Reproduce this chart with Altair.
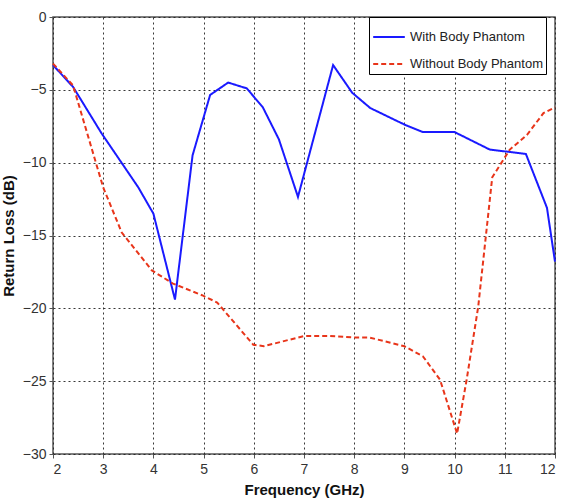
import altair as alt
import pandas as pd

with_freq = [2.0, 2.4, 2.97, 3.7, 4.0, 4.43, 4.78, 5.13, 5.49, 5.86, 6.18, 6.5, 6.88, 7.58, 7.96, 8.32, 9.01, 9.37, 10.0, 10.7, 11.42, 11.84, 12.0]
with_rl = [-3.3, -4.8, -8.0, -11.7, -13.5, -19.4, -9.5, -5.35, -4.5, -4.9, -6.2, -8.4, -12.35, -3.3, -5.2, -6.25, -7.4, -7.9, -7.9, -9.1, -9.4, -13.1, -16.8]

without_freq = [2.0, 2.4, 3.0, 3.37, 3.97, 4.39, 4.97, 5.27, 5.99, 6.2, 7.0, 7.5, 8.0, 8.3, 9.0, 9.37, 9.71, 10.05, 10.24, 10.47, 10.75, 11.1, 11.44, 11.77, 12.0]
without_rl = [-3.2, -4.7, -11.7, -14.8, -17.4, -18.3, -19.1, -19.6, -22.5, -22.6, -21.9, -21.9, -22.0, -22.0, -22.6, -23.3, -24.9, -28.6, -24.9, -19.9, -11.0, -9.1, -8.1, -6.6, -6.2]

series_names = ["With Body Phantom", "Without Body Phantom"]
x_ticks = [2, 3, 4, 5, 6, 7, 8, 9, 10, 11, 12]
y_ticks = [0, -5, -10, -15, -20, -25, -30]

rows = []
for i, (f, v) in enumerate(zip(with_freq, with_rl)):
    rows.append({"freq": f, "rl": v, "series": series_names[0], "order": i})
for i, (f, v) in enumerate(zip(without_freq, without_rl)):
    rows.append({"freq": f, "rl": v, "series": series_names[1], "order": i})
df = pd.DataFrame(rows)

font = "Liberation Sans"

chart = alt.Chart(df).mark_line(strokeWidth=2).encode(
    x=alt.X("freq:Q", scale=alt.Scale(domain=[2, 12], nice=False),
            axis=alt.Axis(values=x_ticks, title="Frequency (GHz)", format="d")),
    y=alt.Y("rl:Q", scale=alt.Scale(domain=[-30, 0], nice=False),
            axis=alt.Axis(values=y_ticks, title="Return Loss (dB)", format="d")),
    color=alt.Color("series:N", scale=alt.Scale(domain=series_names, range=["#1a1aff", "#e8351a"]),
                    legend=alt.Legend(title=None, orient="none", legendX=316, legendY=0,
                                      symbolType="stroke", symbolSize=1000, symbolStrokeWidth=2.2,
                                      strokeColor="black", fillColor="white", padding=3,
                                      labelFont=font, labelFontSize=13, labelColor="#222",
                                      rowPadding=3, labelLimit=300, labelOffset=4)),
    strokeDash=alt.StrokeDash("series:N", scale=alt.Scale(domain=series_names, range=[[1, 0], [5, 3]]),
                              legend=None),
    order="order:Q",
).properties(
    width=502, height=437,
    padding={"left": 53, "top": 17, "right": 6, "bottom": 50},
    autosize=alt.AutoSizeParams(type="none"),
).configure_view(
    stroke="#555", strokeWidth=1.5
).configure_axis(
    grid=True, gridColor="#222", gridDash=[2, 3], gridWidth=1, gridOpacity=0.9,
    domain=False, ticks=True, tickColor="#555", tickSize=4,
    labelFont=font, labelFontSize=14, labelColor="#333",
    titleFont="Liberation Sans", titleFontSize=15, titleFontWeight="bold", titleColor="#111",
).configure_axisX(
    labelPadding=4, titlePadding=6
).configure_axisY(
    labelPadding=3, titlePadding=6
)

chart.save("out.html", embed_options={"renderer": "svg", "actions": False})
